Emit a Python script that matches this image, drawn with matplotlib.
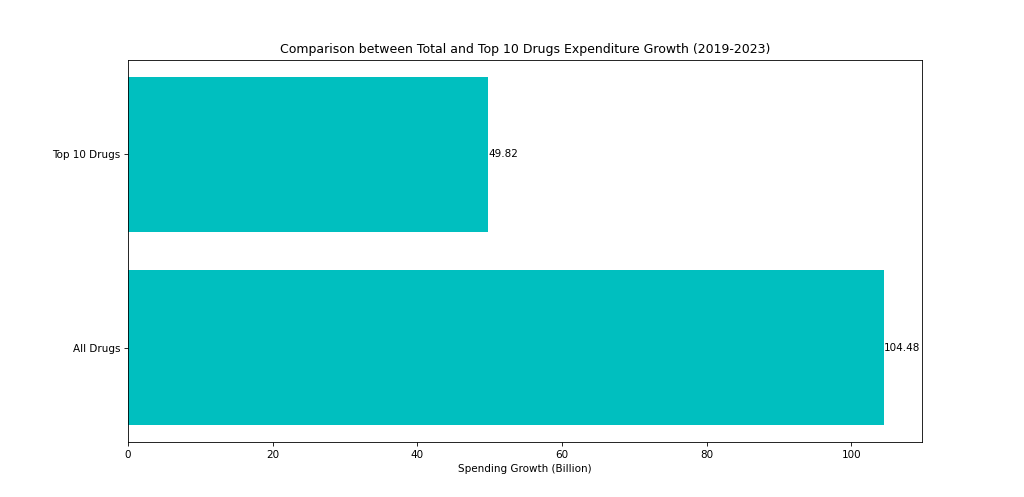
from matplotlib import pyplot as plt

categories = ['All Drugs', 'Top 10 Drugs']
growth = [104.48, 49.82]

# drawn at a larger size and lower dpi so the text comes out small like the reference
fig, ax = plt.subplots(figsize=(1024 / 75, 497 / 75), dpi=75)

bars = ax.barh(categories, growth, color='c')
for b, v in zip(bars, growth):
    ax.text(b.get_width(), b.get_y() + b.get_height() / 2, f'{v:.2f}', va='center', ha='left')

ax.set_xlabel('Spending Growth (Billion)')
ax.set_title('Comparison between Total and Top 10 Drugs Expenditure Growth (2019-2023)')

plt.savefig('out.png', dpi=75)
